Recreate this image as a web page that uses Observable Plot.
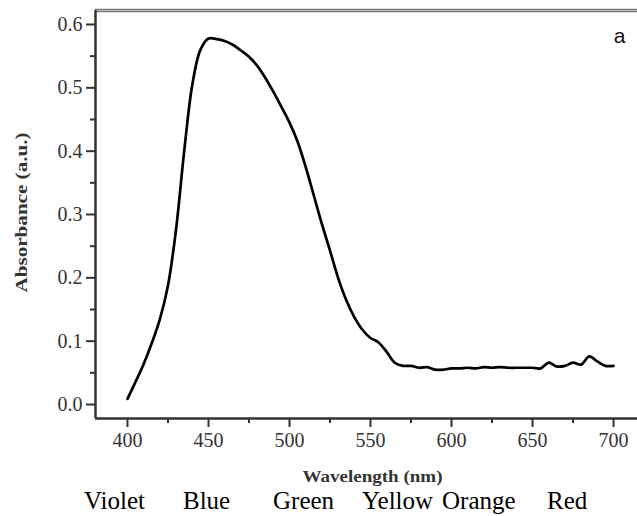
<!DOCTYPE html>
<html>
<head>
<meta charset="utf-8">
<script src="https://cdn.jsdelivr.net/npm/d3@7"></script>
<script src="https://cdn.jsdelivr.net/npm/@observablehq/plot@0.6"></script>
<style>
  html, body { margin: 0; padding: 0; background: #fff; overflow: hidden; }
  #chart { width: 637px; height: 488px; }
  #colors { position: relative; height: 28px; font-family: "Liberation Serif", "Times New Roman", serif; font-size: 25px; line-height: 26px; color: #000; }
  #colors span { position: absolute; top: 0px; white-space: nowrap; }
</style>
</head>
<body>
<div id="chart"></div>
<div id="colors"></div>
<script>
// Data
const wavelength = [400,405,410,415,420,425,430,435,440,445,450,455,460,465,470,475,480,485,490,495,500,505,510,515,520,525,530,535,540,545,550,555,560,565,570,575,580,585,590,595,600,605,610,615,620,625,630,635,640,645,650,655,660,665,670,675,680,685,690,695,700];
const absorbance = [0.009,0.036,0.064,0.097,0.135,0.188,0.277,0.40,0.505,0.56,0.578,0.577,0.574,0.568,0.559,0.549,0.535,0.516,0.494,0.47,0.445,0.415,0.375,0.33,0.285,0.243,0.2,0.165,0.138,0.118,0.105,0.098,0.083,0.066,0.061,0.061,0.058,0.059,0.055,0.055,0.057,0.057,0.058,0.057,0.059,0.058,0.059,0.058,0.058,0.058,0.058,0.057,0.066,0.060,0.061,0.066,0.063,0.076,0.068,0.061,0.061];
const xTicks = [400,450,500,550,600,650,700];
const xMinorTicks = [425,475,525,575,625,675];
const yTicks = [0,0.1,0.2,0.3,0.4,0.5,0.6];
const yMinorTicks = [0.05,0.15,0.25,0.35,0.45,0.55];
const xLabel = "Wavelength (nm)";
const yLabel = "Absorbance (a.u.)";
const panelLabel = "a";
const colorNames = ["Violet","Blue","Green","Yellow","Orange","Red"];

const xDomain = [380.25, 714.8];
const yDomain = [-0.0221, 0.6221];

const rows = wavelength.map((w, i) => ({w, a: absorbance[i]}));
const serif = "Liberation Serif, Times New Roman, serif";

const plot = Plot.plot({
  width: 637,
  height: 488,
  marginLeft: 95,
  marginRight: 0,
  marginTop: 10,
  marginBottom: 70,
  style: {fontFamily: serif, background: "#fff", overflow: "visible"},
  x: {domain: xDomain, axis: null},
  y: {domain: yDomain, axis: null},
  marks: [
    // frame lines
    Plot.ruleY([yDomain[1]], {stroke: "#777", strokeWidth: 3.5}),
    Plot.ruleY([yDomain[1]], {stroke: "#bbb", strokeWidth: 1}),
    Plot.ruleX([xDomain[0]], {stroke: "#333", strokeWidth: 2.5}),
    Plot.ruleY([yDomain[0]], {stroke: "#333", strokeWidth: 2.5}),
    // axes
    Plot.axisX(xTicks, {anchor: "bottom", tickSize: 9, tickPadding: 5, tickFormat: d => String(d), fontSize: 20, fill: "#333", stroke: "#333", strokeWidth: 2, label: null}),
    Plot.axisX(xMinorTicks, {anchor: "bottom", tickSize: 5, tickFormat: () => "", stroke: "#333", strokeWidth: 2, label: null}),
    Plot.axisY(yTicks, {anchor: "left", tickSize: 9, tickPadding: 4, tickFormat: d3.format(".1f"), fontSize: 20, fill: "#333", stroke: "#333", strokeWidth: 2, label: null}),
    Plot.axisY(yMinorTicks, {anchor: "left", tickSize: 5, tickFormat: () => "", stroke: "#333", strokeWidth: 2, label: null}),
    // axis titles
    Plot.text([xLabel], {frameAnchor: "bottom", textAnchor: "middle", lineAnchor: "middle", dx: 6, dy: 58, fontSize: 16, fontWeight: "bold", fill: "#333"}),
    Plot.text([yLabel], {frameAnchor: "left", textAnchor: "middle", lineAnchor: "middle", dx: -74, dy: -2, rotate: -90, fontSize: 17, fontWeight: "bold", fill: "#333"}),
    Plot.text([panelLabel], {frameAnchor: "top-right", textAnchor: "middle", lineAnchor: "middle", dx: -18, dy: 26, fontSize: 21, fontFamily: "Liberation Sans, Arial, sans-serif", fill: "#111"}),
    // spectrum
    Plot.line(rows, {x: "w", y: "a", stroke: "#000", strokeWidth: 2.7, curve: "catmull-rom"})
  ]
});
document.getElementById("chart").append(plot);

// stretch axis titles to the reference's text lengths
const stretch = {[xLabel]: 140, [yLabel]: 160};
plot.querySelectorAll("text").forEach(t => {
  const L = stretch[t.textContent];
  if (L) { t.setAttribute("textLength", L); t.setAttribute("lengthAdjust", "spacingAndGlyphs"); }
});

// color names row (layout offsets kept in code)
const colorLeft = [84, 183, 273, 362, 442, 547];
const colorsDiv = document.getElementById("colors");
colorNames.forEach((name, i) => {
  const s = document.createElement("span");
  s.textContent = name;
  s.style.left = colorLeft[i] + "px";
  colorsDiv.append(s);
});
</script>
</body>
</html>
